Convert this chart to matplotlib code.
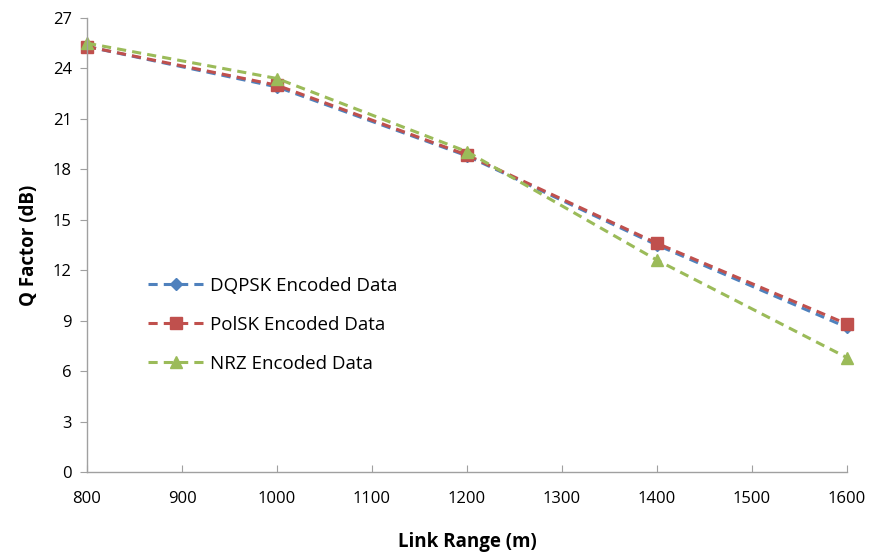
import matplotlib
matplotlib.use("Agg")
import matplotlib.pyplot as plt

link_range = [800, 1000, 1200, 1400, 1600]
dqpsk = [25.3, 22.9, 18.8, 13.5, 8.6]
polsk = [25.3, 23.0, 18.85, 13.6, 8.8]
nrz = [25.5, 23.4, 19.05, 12.6, 6.8]

x_ticks = list(range(800, 1601, 100))
y_ticks = list(range(0, 28, 3))

plt.rcParams['font.family'] = ['Open Sans', 'DejaVu Sans']

fig = plt.figure(figsize=(8.81, 5.53), dpi=100)
ax = fig.add_axes([0.0988, 0.1465, 0.8626, 0.821])

ax.plot(link_range, dqpsk, linestyle=(0, (3, 2)), color='#4F81BD', lw=2.2,
        marker='D', ms=6, label='DQPSK Encoded Data', clip_on=False)
ax.plot(link_range, polsk, linestyle=(0, (3, 2)), color='#C0504D', lw=2.2,
        marker='s', ms=8, label='PolSK Encoded Data', clip_on=False)
ax.plot(link_range, nrz, linestyle=(0, (3, 2)), color='#9BBB59', lw=2.2,
        marker='^', ms=9, label='NRZ Encoded Data', clip_on=False)

ax.set_xlim(800, 1600)
ax.set_ylim(0, 27)
ax.set_xticks(x_ticks)
ax.set_yticks(y_ticks)
ax.tick_params(axis='x', direction='in', length=5, color='#A0A0A0', labelsize=12, pad=14)
ax.tick_params(axis='y', direction='out', length=5, color='#A0A0A0', labelsize=12, pad=6)
for s in ['top', 'right']:
    ax.spines[s].set_visible(False)
for s in ['left', 'bottom']:
    ax.spines[s].set_color('#A0A0A0')
    ax.spines[s].set_linewidth(1)

ax.set_xlabel('Link Range (m)', fontsize=13.5, fontweight='bold', labelpad=18)
ax.set_ylabel('Q Factor (dB)', fontsize=13.5, fontweight='bold', labelpad=10)

ax.legend(loc='upper left', bbox_to_anchor=(0.07, 0.447), frameon=False,
          fontsize=13.5, handlelength=3, labelspacing=1.12, handletextpad=0.3,
          borderaxespad=0)

fig.savefig('out.png', dpi=100)
